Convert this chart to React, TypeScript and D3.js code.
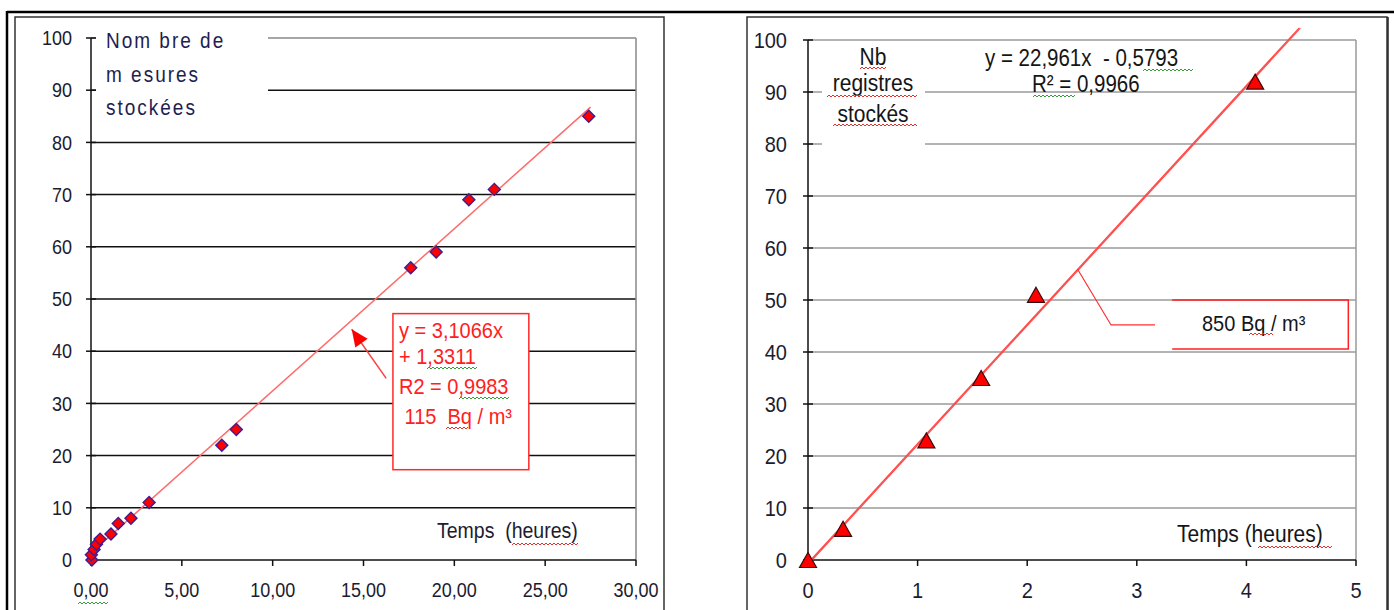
import React, { useEffect, useRef } from "react";
import * as d3 from "d3";

// left chart: stored measurements vs time (hours)
const leftHours = [0.05, 0.02, 0.17, 0.3, 0.5, 1.1, 1.5, 2.2, 3.2, 7.2, 8.0, 17.6, 19.0, 20.8, 22.2, 27.4];
const leftCounts = [0, 1, 2, 3, 4, 5, 7, 8, 11, 22, 25, 56, 59, 69, 71, 85];
const leftFit = [3.1066, 1.3311];
const leftXTicks = [0, 5, 10, 15, 20, 25, 30];

// right chart: stored records vs time (hours)
const rightHours = [0, 0.32, 1.08, 1.58, 2.08, 4.08];
const rightCounts = [0, 6, 23, 35, 51, 92];
const rightFit = [22.961, -0.5793];
const rightXTicks = [0, 1, 2, 3, 4, 5];

const yTicks = [0, 10, 20, 30, 40, 50, 60, 70, 80, 90, 100];

const FONT = "'Liberation Sans', Arial, sans-serif";
const STRETCH = 1.14; // the original text is a bit taller than Arial

function txt(g, x, y, s, size, color, anchor = "start", spacing = 0) {
    return g.append("text")
        .attr("transform", `translate(${x},${y}) scale(1,${STRETCH})`)
        .attr("text-anchor", anchor)
        .attr("font-size", size)
        .attr("letter-spacing", spacing)
        .attr("fill", color)
        .attr("xml:space", "preserve")
        .text(s);
}

function wavy(g, x1, x2, y, color) {
    const pts = [];
    for (let x = x1, i = 0; x <= x2; x += 2, i++) {
        pts.push([x, y + (i % 2 ? -1 : 1)]);
    }
    g.append("path")
        .attr("d", d3.line()(pts))
        .attr("fill", "none")
        .attr("stroke", color)
        .attr("stroke-width", 1);
}

function drawAxes(g, x, y, xTicks, fmt, opt) {
    const [x0, x1] = x.range();
    // grid
    yTicks.filter((t) => t > 0).forEach((t) => {
        g.append("line")
            .attr("x1", x0).attr("x2", x1)
            .attr("y1", y(t)).attr("y2", y(t))
            .attr("stroke", t === 100 ? opt.topColor : opt.gridColor)
            .attr("stroke-width", 1.5);
    });
    g.append("line")
        .attr("x1", x1).attr("x2", x1)
        .attr("y1", y(0)).attr("y2", y(100))
        .attr("stroke", opt.topColor)
        .attr("stroke-width", 1.5);
    // axis lines
    g.append("line")
        .attr("x1", x0).attr("x2", x1)
        .attr("y1", y(0)).attr("y2", y(0))
        .attr("stroke", "#111").attr("stroke-width", 1.5);
    g.append("line")
        .attr("x1", x0).attr("x2", x0)
        .attr("y1", y(0)).attr("y2", y(100))
        .attr("stroke", "#111").attr("stroke-width", 1.5);
    yTicks.forEach((t) => {
        g.append("line")
            .attr("x1", x0 - 5).attr("x2", x0 + 5)
            .attr("y1", y(t)).attr("y2", y(t))
            .attr("stroke", "#111").attr("stroke-width", 1.5);
        txt(g, opt.yLabelX, y(t) + opt.fontSize * 0.4, String(t), opt.fontSize, "#1c1c30", "end");
    });
    xTicks.forEach((t) => {
        g.append("line")
            .attr("x1", x(t)).attr("x2", x(t))
            .attr("y1", y(0)).attr("y2", y(0) + 6)
            .attr("stroke", "#111").attr("stroke-width", 1.5);
        txt(g, x(t), opt.xLabelY, fmt(t), opt.fontSize, "#1c1c30", "middle");
    });
}

export default function App() {
    const svgRef = useRef(null);

    useEffect(() => {
        const svg = d3.select(svgRef.current);
        svg.selectAll("*").remove();
        svg.style("font-family", FONT);

        // frames
        svg.append("line").attr("x1", 7).attr("x2", 1394).attr("y1", 12).attr("y2", 12)
            .attr("stroke", "#000").attr("stroke-width", 2.5);
        svg.append("line").attr("x1", 7).attr("x2", 7).attr("y1", 11).attr("y2", 610)
            .attr("stroke", "#000").attr("stroke-width", 2.5);
        svg.append("path").attr("d", "M15,612V17H664V612")
            .attr("fill", "none").attr("stroke", "#333").attr("stroke-width", 1.5);
        svg.append("path").attr("d", "M747,612V17H1387V612")
            .attr("fill", "none").attr("stroke", "#333").attr("stroke-width", 1.5);
        svg.append("line").attr("x1", 1388).attr("x2", 1388).attr("y1", 17).attr("y2", 610)
            .attr("stroke", "#222").attr("stroke-width", 1.5);

        // ---------- left chart ----------
        const gl = svg.append("g");
        const xL = d3.scaleLinear().domain([0, 30]).range([91, 636]);
        const yL = d3.scaleLinear().domain([0, 100]).range([560, 38]);
        const fmtL = (v) => d3.format(".2f")(v).replace(".", ",");
        drawAxes(gl, xL, yL, leftXTicks, fmtL, {
            gridColor: "#111", topColor: "#888", fontSize: 18, yLabelX: 72, xLabelY: 597,
        });

        // title box over grid
        gl.append("rect").attr("x", 96).attr("y", 28).attr("width", 172).attr("height", 98).attr("fill", "#fff");
        ["Nom bre de", "m esures", "stockées"].forEach((s, i) => {
            txt(gl, 106, 48 + i * 33.5, s, 19, "#1e1e50", "start", 2);
        });
        txt(gl, 437, 538, "Temps  (heures)", 19.5, "#1c1c30");
        wavy(gl, 512, 578, 544, "#e03030");
        wavy(gl, 78, 108, 603, "#3a9a3a");

        // trendline
        gl.append("line")
            .attr("x1", xL(0)).attr("y1", yL(leftFit[1]))
            .attr("x2", xL(27.5)).attr("y2", yL(leftFit[0] * 27.5 + leftFit[1]))
            .attr("stroke", "#ff6a6a").attr("stroke-width", 1.5);

        // diamonds
        const diamond = "M0,-6L6,0L0,6L-6,0Z";
        leftHours.forEach((h, i) => {
            gl.append("path")
                .attr("d", diamond)
                .attr("transform", `translate(${xL(h)},${yL(leftCounts[i])})`)
                .attr("fill", "#ff0000")
                .attr("stroke", "#3c1e96")
                .attr("stroke-width", 1.4);
        });

        // annotation box
        gl.append("rect").attr("x", xL(16.62)).attr("y", yL(47.2))
            .attr("width", xL(24.1) - xL(16.62)).attr("height", yL(17.3) - yL(47.2))
            .attr("fill", "#fff").attr("stroke", "#ff2a2a").attr("stroke-width", 1.5);
        const annL = ["y = 3,1066x", "+ 1,3311", "R2 = 0,9983", " 115  Bq / m³"];
        const annY = [338, 364, 394, 424];
        annL.forEach((s, i) => {
            txt(gl, 399, annY[i], s, 20, "#ff2020");
        });
        wavy(gl, 427, 477, 368, "#3a9a3a");
        wavy(gl, 459, 510, 398, "#3a9a3a");
        wavy(gl, 446, 468, 428, "#e03030");

        // arrow
        const tip = [xL(14.35), yL(44.2)];
        const tail = [xL(16.25), yL(34.8)];
        gl.append("line").attr("x1", tail[0]).attr("y1", tail[1]).attr("x2", tip[0]).attr("y2", tip[1])
            .attr("stroke", "#ff4040").attr("stroke-width", 1.5);
        const ang = Math.atan2(tip[1] - tail[1], tip[0] - tail[0]);
        const L = 17, W = 7.5;
        const bx = tip[0] - L * Math.cos(ang), by = tip[1] - L * Math.sin(ang);
        gl.append("path")
            .attr("d", `M${tip[0]},${tip[1]}L${bx + W * Math.sin(ang)},${by - W * Math.cos(ang)}L${bx - W * Math.sin(ang)},${by + W * Math.cos(ang)}Z`)
            .attr("fill", "#ff0000");

        // ---------- right chart ----------
        const gr = svg.append("g");
        const xR = d3.scaleLinear().domain([0, 5]).range([808, 1356]);
        const yR = d3.scaleLinear().domain([0, 100]).range([560, 40]);
        drawAxes(gr, xR, yR, rightXTicks, (v) => String(v), {
            gridColor: "#9a9a9a", topColor: "#9a9a9a", fontSize: 20, yLabelX: 787, xLabelY: 598,
        });

        gr.append("rect").attr("x", 822).attr("y", 42).attr("width", 103).attr("height", 108).attr("fill", "#fff");
        const titleR = ["Nb", "registres", "stockés"];
        const titleRY = [65, 91, 122];
        titleR.forEach((s, i) => {
            txt(gr, 873, titleRY[i], s, 21, "#151515", "middle");
        });
        wavy(gr, 860, 887, 68, "#e03030");
        wavy(gr, 827, 917, 96, "#e03030");
        wavy(gr, 833, 917, 125, "#e03030");

        txt(gr, 985, 66, "y = 22,961x  - 0,5793", 20.5, "#151515");
        txt(gr, 1032, 92, "R² = 0,9966", 20.5, "#151515");
        wavy(gr, 1143, 1194, 70, "#3a9a3a");
        wavy(gr, 1033, 1075, 96, "#3a9a3a");

        txt(gr, 1177, 542, "Temps (heures)", 21, "#151515");
        wavy(gr, 1258, 1333, 547, "#e03030");

        // trendline (drawn double, as in the original)
        const xEnd = 4.48;
        [0, 1.3].forEach((off) => {
            gr.append("line")
                .attr("x1", xR(0) + off).attr("y1", yR(rightFit[1]))
                .attr("x2", xR(xEnd) + off).attr("y2", yR(rightFit[0] * xEnd + rightFit[1]))
                .attr("stroke", "#ff4a4a").attr("stroke-width", 1.3);
        });

        // leader + callout
        const lx0 = 2.46;
        gr.append("path")
            .attr("d", `M${xR(lx0)},${yR(rightFit[0] * lx0 + rightFit[1])}L${xR(2.765)},${yR(45.2)}L${xR(3.166)},${yR(45.2)}`)
            .attr("fill", "none").attr("stroke", "#ff3030").attr("stroke-width", 1.2);
        const bx0 = xR(3.323), bx1 = xR(4.93), by0 = yR(50), by1 = yR(40.6);
        gr.append("rect").attr("x", bx0).attr("y", by0 + 1).attr("width", bx1 - bx0).attr("height", by1 - by0 - 1)
            .attr("fill", "#fff");
        gr.append("path").attr("d", `M${bx0},${by0}H${bx1}V${by1}H${bx0}`)
            .attr("fill", "none").attr("stroke", "#ff2020").attr("stroke-width", 1.5);
        txt(gr, 1202, 331, "850 Bq / m³", 20, "#151515");
        wavy(gr, 1249, 1273, 334, "#e03030");

        // triangles
        const tri = "M0,-7.5L8.5,7.5L-8.5,7.5Z";
        rightHours.forEach((h, i) => {
            gr.append("path")
                .attr("d", tri)
                .attr("transform", `translate(${xR(h)},${yR(rightCounts[i])})`)
                .attr("fill", "#ff0000")
                .attr("stroke", "#3a0a0a")
                .attr("stroke-width", 1.2);
        });
    }, []);

    return (
        <svg
            ref={svgRef}
            width={1394}
            height={610}
            style={{ position: "absolute", left: 0, top: 0, background: "#fff" }}
        />
    );
}
